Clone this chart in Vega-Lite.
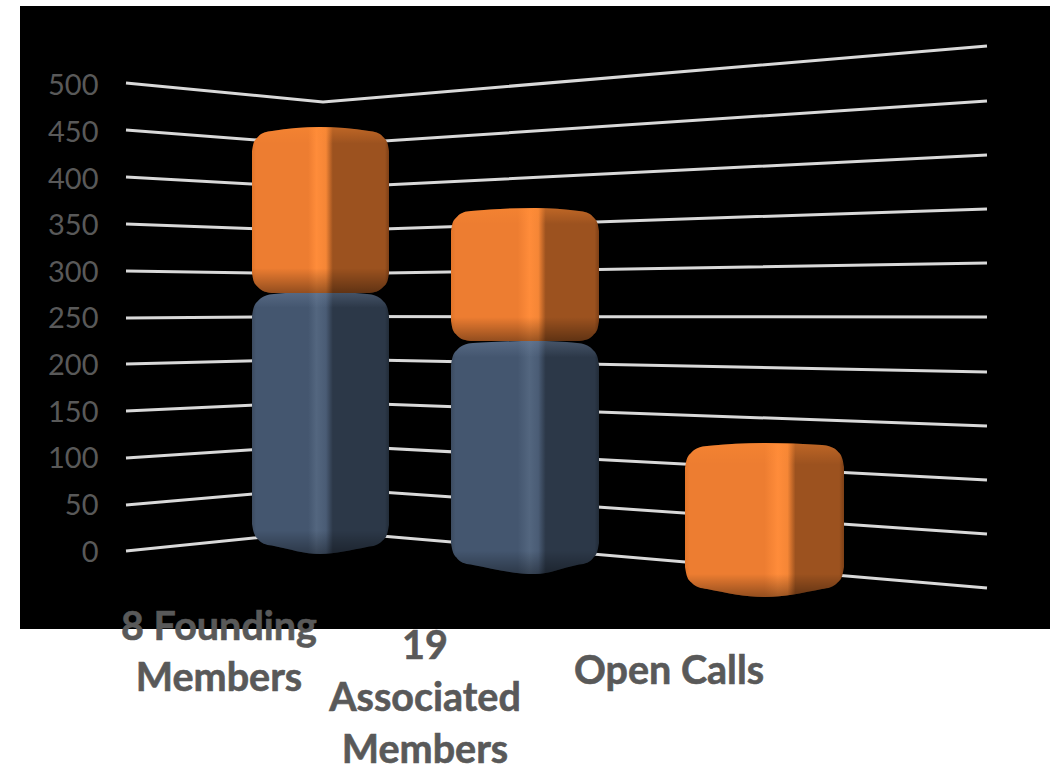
{"$schema":"https://vega.github.io/schema/vega-lite/v6.json","width":1030,"height":623,"padding":{"left":20,"top":6,"right":0,"bottom":142},"autosize":"none","background":"#ffffff","view":{"fill":"#000000","stroke":null},
"datasets":{
"grid":[
{"level":0,"position":126,"projected":0},{"level":0,"position":323,"projected":21.5},{"level":0,"position":987,"projected":-39.7},
{"level":50,"position":126,"projected":49.4},{"level":50,"position":323,"projected":67.6},{"level":50,"position":987,"projected":18.2},
{"level":100,"position":126,"projected":99.8},{"level":100,"position":323,"projected":113.7},{"level":100,"position":987,"projected":76.2},
{"level":150,"position":126,"projected":150.2},{"level":150,"position":323,"projected":159.9},{"level":150,"position":987,"projected":134.1},
{"level":200,"position":126,"projected":200.6},{"level":200,"position":323,"projected":206},{"level":200,"position":987,"projected":192.1},
{"level":250,"position":126,"projected":250},{"level":250,"position":323,"projected":251.6},{"level":250,"position":987,"projected":251.1},
{"level":300,"position":126,"projected":300.4},{"level":300,"position":323,"projected":297.2},{"level":300,"position":987,"projected":309},
{"level":350,"position":126,"projected":350.9},{"level":350,"position":323,"projected":343.3},{"level":350,"position":987,"projected":367},
{"level":400,"position":126,"projected":401.3},{"level":400,"position":323,"projected":389.5},{"level":400,"position":987,"projected":424.9},
{"level":450,"position":126,"projected":451.7},{"level":450,"position":323,"projected":435.6},{"level":450,"position":987,"projected":482.8},
{"level":500,"position":126,"projected":502.1},{"level":500,"position":323,"projected":481.8},{"level":500,"position":987,"projected":541.8}
],
"bars":[
{"shape":"F-blue","position":252,"top":252.1,"bottom":29.0},{"shape":"F-blue","position":253.7,"top":261.2,"bottom":20.0},{"shape":"F-blue","position":258.4,"top":268.9,"bottom":12.2},{"shape":"F-blue","position":265.6,"top":273.9,"bottom":7.2},{"shape":"F-blue","position":274,"top":275.8,"bottom":5.4},{"shape":"F-blue","position":320,"top":277.9,"bottom":-3.2},{"shape":"F-blue","position":367,"top":275.8,"bottom":4.3},{"shape":"F-blue","position":375.4,"top":273.9,"bottom":6.1},{"shape":"F-blue","position":382.6,"top":268.9,"bottom":11.2},{"shape":"F-blue","position":387.3,"top":261.2,"bottom":18.9},{"shape":"F-blue","position":389,"top":252.1,"bottom":27.9},
{"shape":"F-orange","position":252,"top":429.2,"bottom":298.3},{"shape":"F-orange","position":253.5,"top":437.4,"bottom":290.0},{"shape":"F-orange","position":257.9,"top":444.3,"bottom":283.2},{"shape":"F-orange","position":264.3,"top":449.0,"bottom":278.4},{"shape":"F-orange","position":272,"top":450.6,"bottom":276.8},{"shape":"F-orange","position":320,"top":454.9,"bottom":276.8},{"shape":"F-orange","position":369,"top":450.6,"bottom":276.8},{"shape":"F-orange","position":376.7,"top":449.0,"bottom":278.4},{"shape":"F-orange","position":383.1,"top":444.3,"bottom":283.2},{"shape":"F-orange","position":387.5,"top":437.4,"bottom":290.0},{"shape":"F-orange","position":389,"top":429.2,"bottom":298.3},
{"shape":"A-blue","position":451,"top":199.6,"bottom":8.6},{"shape":"A-blue","position":452.7,"top":208.6,"bottom":-0.4},{"shape":"A-blue","position":457.4,"top":216.3,"bottom":-8.2},{"shape":"A-blue","position":464.6,"top":221.4,"bottom":-13.2},{"shape":"A-blue","position":473,"top":223.2,"bottom":-15.0},{"shape":"A-blue","position":535,"top":225.3,"bottom":-24.7},{"shape":"A-blue","position":577,"top":223.2,"bottom":-15.0},{"shape":"A-blue","position":585.4,"top":221.4,"bottom":-13.2},{"shape":"A-blue","position":592.6,"top":216.3,"bottom":-8.2},{"shape":"A-blue","position":597.3,"top":208.6,"bottom":-0.4},{"shape":"A-blue","position":599,"top":199.6,"bottom":8.6},
{"shape":"A-orange","position":451,"top":343.3,"bottom":246.8},{"shape":"A-orange","position":452.5,"top":351.6,"bottom":238.5},{"shape":"A-orange","position":456.9,"top":358.5,"bottom":231.6},{"shape":"A-orange","position":463.3,"top":363.2,"bottom":226.9},{"shape":"A-orange","position":471,"top":364.8,"bottom":225.3},{"shape":"A-orange","position":535,"top":368.0,"bottom":225.3},{"shape":"A-orange","position":579,"top":364.8,"bottom":225.3},{"shape":"A-orange","position":586.7,"top":363.2,"bottom":226.9},{"shape":"A-orange","position":593.1,"top":358.5,"bottom":231.6},{"shape":"A-orange","position":597.5,"top":351.6,"bottom":238.5},{"shape":"A-orange","position":599,"top":343.3,"bottom":246.8},
{"shape":"O-orange","position":685,"top":89.1,"bottom":-17.2},{"shape":"O-orange","position":686.7,"top":98.1,"bottom":-26.2},{"shape":"O-orange","position":691.4,"top":105.8,"bottom":-33.9},{"shape":"O-orange","position":698.6,"top":110.8,"bottom":-38.9},{"shape":"O-orange","position":707,"top":112.7,"bottom":-40.8},{"shape":"O-orange","position":765,"top":115.9,"bottom":-49.4},{"shape":"O-orange","position":822,"top":113.7,"bottom":-40.8},{"shape":"O-orange","position":830.4,"top":111.9,"bottom":-38.9},{"shape":"O-orange","position":837.6,"top":106.9,"bottom":-33.9},{"shape":"O-orange","position":842.3,"top":99.1,"bottom":-26.2},{"shape":"O-orange","position":844,"top":90.1,"bottom":-17.2}
],
"labels":[
{"line":"8 Founding","position":219,"projected":-95.5},{"line":"Members","position":219,"projected":-150.2},
{"line":"19","position":425,"projected":-116},{"line":"Associated","position":425,"projected":-171.7},{"line":"Members","position":425,"projected":-227.5},
{"line":"Open Calls","position":669,"projected":-142.7}
]},
"encoding":{
"x":{"field":"position","type":"quantitative","scale":{"domain":[20,1050],"nice":false,"zero":false},"axis":null}
},
"layer":[
{"data":{"name":"grid"},"mark":{"type":"line","color":"#D9D9D9","strokeWidth":3},
"encoding":{"detail":{"field":"level"},"order":{"field":"position","type":"quantitative"},
"y":{"field":"projected","type":"quantitative","scale":{"domain":[-83.69,584.76],"nice":false,"zero":false},
"axis":{"values":[0,50,100,150,200,250,300,350,400,450,500],"title":null,"domain":false,"ticks":false,"grid":false,"offset":-78,"labelPadding":0,"labelFont":"Lato","labelFontSize":29,"labelColor":"#595959","labelOffset":1}}}},
{"data":{"name":"bars"},"transform":[{"filter":"datum.shape==='F-blue'"}],
"mark":{"type":"area","interpolate":"monotone","fill":{"gradient":"linear","x1":0,"y1":0,"x2":1,"y2":0,"stops":[{"offset":0,"color":"#3C4B60"},{"offset":0.03,"color":"#44566F"},{"offset":0.41,"color":"#44566F"},{"offset":0.47,"color":"#53667F"},{"offset":0.54,"color":"#4A5C75"},{"offset":0.59,"color":"#2C3848"},{"offset":0.97,"color":"#2C3848"},{"offset":1,"color":"#222C38"}]}},
"encoding":{"y":{"field":"top","type":"quantitative"},"y2":{"field":"bottom"}}},
{"data":{"name":"bars"},"transform":[{"filter":"datum.shape==='F-blue'"}],
"mark":{"type":"area","interpolate":"monotone","fill":{"gradient":"linear","x1":0,"y1":0,"x2":0,"y2":1,"stops":[{"offset":0,"color":"rgba(130,150,180,0.3)"},{"offset":0.06,"color":"rgba(130,150,180,0)"},{"offset":0.91,"color":"rgba(0,0,0,0)"},{"offset":1,"color":"rgba(0,0,0,0.35)"}]}},
"encoding":{"y":{"field":"top","type":"quantitative"},"y2":{"field":"bottom"}}},
{"data":{"name":"bars"},"transform":[{"filter":"datum.shape==='A-blue'"}],
"mark":{"type":"area","interpolate":"monotone","fill":{"gradient":"linear","x1":0,"y1":0,"x2":1,"y2":0,"stops":[{"offset":0,"color":"#3C4B60"},{"offset":0.03,"color":"#44566F"},{"offset":0.45,"color":"#44566F"},{"offset":0.53,"color":"#53667F"},{"offset":0.59,"color":"#4A5C75"},{"offset":0.64,"color":"#2C3848"},{"offset":0.97,"color":"#2C3848"},{"offset":1,"color":"#222C38"}]}},
"encoding":{"y":{"field":"top","type":"quantitative"},"y2":{"field":"bottom"}}},
{"data":{"name":"bars"},"transform":[{"filter":"datum.shape==='A-blue'"}],
"mark":{"type":"area","interpolate":"monotone","fill":{"gradient":"linear","x1":0,"y1":0,"x2":0,"y2":1,"stops":[{"offset":0,"color":"rgba(130,150,180,0.3)"},{"offset":0.07,"color":"rgba(130,150,180,0)"},{"offset":0.9,"color":"rgba(0,0,0,0)"},{"offset":1,"color":"rgba(0,0,0,0.35)"}]}},
"encoding":{"y":{"field":"top","type":"quantitative"},"y2":{"field":"bottom"}}},
{"data":{"name":"bars"},"transform":[{"filter":"datum.shape==='F-orange'"}],
"mark":{"type":"area","interpolate":"monotone","fill":{"gradient":"linear","x1":0,"y1":0,"x2":1,"y2":0,"stops":[{"offset":0,"color":"#E27529"},{"offset":0.03,"color":"#ED7D31"},{"offset":0.41,"color":"#ED7D31"},{"offset":0.47,"color":"#FF8C3A"},{"offset":0.54,"color":"#F58636"},{"offset":0.59,"color":"#9C521F"},{"offset":0.97,"color":"#9C521F"},{"offset":1,"color":"#7C3F16"}]}},
"encoding":{"y":{"field":"top","type":"quantitative"},"y2":{"field":"bottom"}}},
{"data":{"name":"bars"},"transform":[{"filter":"datum.shape==='F-orange'"}],
"mark":{"type":"area","interpolate":"monotone","fill":{"gradient":"linear","x1":0,"y1":0,"x2":0,"y2":1,"stops":[{"offset":0,"color":"rgba(255,140,50,0.35)"},{"offset":0.1,"color":"rgba(255,140,50,0)"},{"offset":0.85,"color":"rgba(0,0,0,0)"},{"offset":1,"color":"rgba(0,0,0,0.38)"}]}},
"encoding":{"y":{"field":"top","type":"quantitative"},"y2":{"field":"bottom"}}},
{"data":{"name":"bars"},"transform":[{"filter":"datum.shape==='A-orange'"}],
"mark":{"type":"area","interpolate":"monotone","fill":{"gradient":"linear","x1":0,"y1":0,"x2":1,"y2":0,"stops":[{"offset":0,"color":"#E27529"},{"offset":0.03,"color":"#ED7D31"},{"offset":0.45,"color":"#ED7D31"},{"offset":0.53,"color":"#FF8C3A"},{"offset":0.59,"color":"#F58636"},{"offset":0.64,"color":"#9C521F"},{"offset":0.97,"color":"#9C521F"},{"offset":1,"color":"#7C3F16"}]}},
"encoding":{"y":{"field":"top","type":"quantitative"},"y2":{"field":"bottom"}}},
{"data":{"name":"bars"},"transform":[{"filter":"datum.shape==='A-orange'"}],
"mark":{"type":"area","interpolate":"monotone","fill":{"gradient":"linear","x1":0,"y1":0,"x2":0,"y2":1,"stops":[{"offset":0,"color":"rgba(255,140,50,0.35)"},{"offset":0.12,"color":"rgba(255,140,50,0)"},{"offset":0.82,"color":"rgba(0,0,0,0)"},{"offset":1,"color":"rgba(0,0,0,0.38)"}]}},
"encoding":{"y":{"field":"top","type":"quantitative"},"y2":{"field":"bottom"}}},
{"data":{"name":"bars"},"transform":[{"filter":"datum.shape==='O-orange'"}],
"mark":{"type":"area","interpolate":"monotone","fill":{"gradient":"linear","x1":0,"y1":0,"x2":1,"y2":0,"stops":[{"offset":0,"color":"#E27529"},{"offset":0.03,"color":"#ED7D31"},{"offset":0.5,"color":"#ED7D31"},{"offset":0.585,"color":"#FF8C3A"},{"offset":0.645,"color":"#F58636"},{"offset":0.695,"color":"#9C521F"},{"offset":0.97,"color":"#9C521F"},{"offset":1,"color":"#7C3F16"}]}},
"encoding":{"y":{"field":"top","type":"quantitative"},"y2":{"field":"bottom"}}},
{"data":{"name":"bars"},"transform":[{"filter":"datum.shape==='O-orange'"}],
"mark":{"type":"area","interpolate":"monotone","fill":{"gradient":"linear","x1":0,"y1":0,"x2":0,"y2":1,"stops":[{"offset":0,"color":"rgba(255,140,50,0.35)"},{"offset":0.14,"color":"rgba(255,140,50,0)"},{"offset":0.85,"color":"rgba(0,0,0,0)"},{"offset":1,"color":"rgba(0,0,0,0.38)"}]}},
"encoding":{"y":{"field":"top","type":"quantitative"},"y2":{"field":"bottom"}}},
{"data":{"name":"labels"},"mark":{"type":"text","font":"Lato","fontWeight":"bold","fontSize":39.5,"color":"#595959","stroke":"#595959","strokeWidth":0.6,"align":"center","baseline":"alphabetic"},
"encoding":{"y":{"field":"projected","type":"quantitative"},"text":{"field":"line"}}}
]}
